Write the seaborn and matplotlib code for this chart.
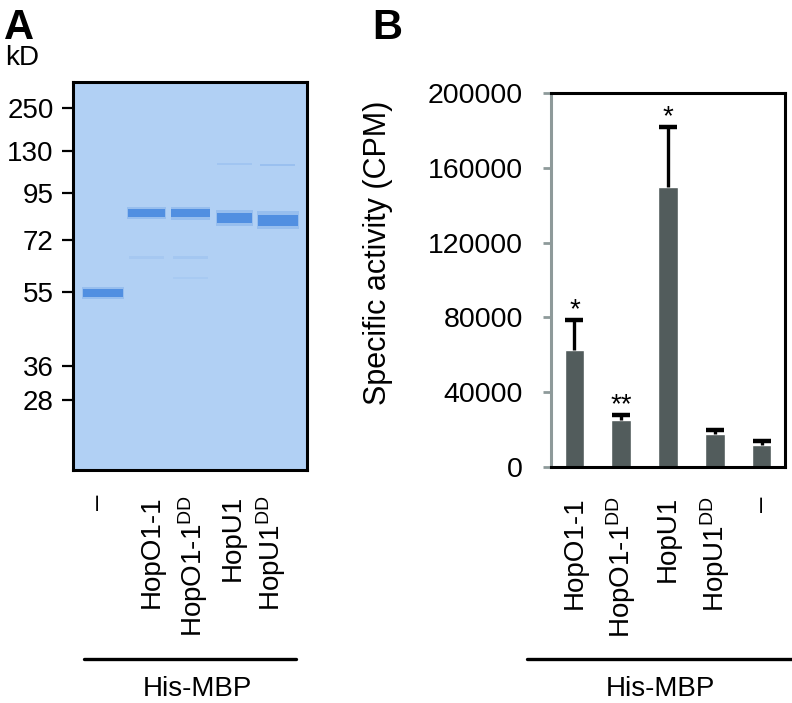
import matplotlib
matplotlib.use("Agg")
import matplotlib.pyplot as plt
from matplotlib.lines import Line2D
import seaborn as sns

# ---- panel A: gel (marker ladder + lane bands) ----
marker_kd = [250, 130, 95, 72, 55, 36, 28]
marker_mig = [0.067, 0.178, 0.286, 0.407, 0.541, 0.732, 0.820]   # relative migration from gel top
gel_lanes = ["\u2013", "HopO1-1", "HopO1-1$^{\\mathrm{DD}}$", "HopU1", "HopU1$^{\\mathrm{DD}}$"]

band_lane = [0, 1, 2, 3, 4]
band_mig = [0.544, 0.338, 0.338, 0.351, 0.356]
band_thick = [0.020, 0.020, 0.021, 0.025, 0.029]
band_width = [0.91, 0.85, 0.87, 0.80, 0.91]

faint_lane = [3, 4, 1, 2, 2]
faint_mig = [0.212, 0.214, 0.452, 0.452, 0.505]
faint_alpha = [0.15, 0.22, 0.10, 0.12, 0.08]

# ---- panel B: kinase activity ----
act_labels = ["HopO1-1", "HopO1-1$^{\\mathrm{DD}}$", "HopU1", "HopU1$^{\\mathrm{DD}}$", "\u2013"]
act_values = [62800, 25400, 149500, 17900, 12000]
act_err = [15800, 2300, 32300, 2100, 1800]
act_stars = ["*", "**", "*", "", ""]

sns.set_style("white")
plt.rcParams["font.family"] = ["Liberation Sans", "DejaVu Sans"]
plt.rcParams["text.color"] = "black"
plt.rcParams["axes.labelcolor"] = "black"
plt.rcParams["xtick.color"] = "black"
plt.rcParams["ytick.color"] = "black"
plt.rcParams["mathtext.fontset"] = "custom"
plt.rcParams["mathtext.rm"] = "Liberation Sans"
plt.rcParams["mathtext.it"] = "Liberation Sans:italic"
plt.rcParams["mathtext.bf"] = "Liberation Sans:bold"

W, H = 792, 703
fig = plt.figure(figsize=(W / 100, H / 100), dpi=100)


def fx(px):
    return px / W


def fy(py):
    return 1 - py / H


gel_col = "#b1d0f4"
band_col = "#4a8ae0"

# Gel panel
ax_gel = fig.add_axes([fx(73), fy(470), 234 / W, 388 / H])
ax_gel.set_facecolor(gel_col)
ax_gel.set_xlim(-0.686, 4.663)
ax_gel.set_ylim(1, 0)

for lane, mig, th, w in zip(band_lane, band_mig, band_thick, band_width):
    ax_gel.bar(lane, th * 1.6, bottom=mig - th * 0.8, width=w + 0.04,
               color=band_col, alpha=0.25, linewidth=0)
    ax_gel.bar(lane, th, bottom=mig - th / 2, width=w,
               color=band_col, alpha=0.9, linewidth=0)

for lane, mig, a in zip(faint_lane, faint_mig, faint_alpha):
    ax_gel.bar(lane, 0.006, bottom=mig - 0.003, width=0.8,
               color=band_col, alpha=a, linewidth=0)

ax_gel.set_yticks(marker_mig)
ax_gel.set_yticklabels([str(k) for k in marker_kd], fontsize=20)
ax_gel.tick_params(axis="y", direction="out", length=8, width=1.6, pad=6,
                   left=True, colors="black")
# lane labels sit slightly off the band centres, as in the figure
ax_gel.set_xticks([-0.11, 1.12, 2.06, 2.97, 3.84])
ax_gel.set_xticklabels(gel_lanes, rotation=90, fontsize=20, va="top")
ax_gel.tick_params(axis="x", length=0, pad=18)
for sp in ax_gel.spines.values():
    sp.set_color("black")
    sp.set_linewidth(2.2)

# Bar panel
ax_b = fig.add_axes([fx(551), fy(467), 234 / W, 374 / H])
pos = list(range(len(act_labels)))
sns.barplot(x=pos, y=act_values, color="#525c5c", saturation=1, width=0.42,
            ax=ax_b, native_scale=True)
eb = ax_b.errorbar(pos, act_values, yerr=[[0] * len(pos), act_err], fmt="none",
                   ecolor="black", elinewidth=2.4, capsize=6.5, capthick=3.2)
# keep only the upper caps
for cap in eb[1]:
    if list(cap.get_ydata()) == act_values:
        cap.set_visible(False)

for i, (v, e, s) in enumerate(zip(act_values, act_err, act_stars)):
    if s:
        ax_b.annotate(s, (i, v + e), xytext=(0, -2), textcoords="offset points",
                      ha="center", va="bottom", fontsize=20)

ax_b.set_xlim(-0.5, 4.5)
ax_b.set_ylim(0, 200000)
ax_b.set_yticks(range(0, 200001, 40000))
ax_b.set_yticklabels([str(t) for t in range(0, 200001, 40000)], fontsize=20.5)
ax_b.tick_params(axis="y", direction="out", length=6, width=2, pad=14,
                 left=True, color="#8e9a9a", labelcolor="black")
ax_b.set_xticks(pos)
ax_b.set_xticklabels(act_labels, rotation=90, fontsize=20, va="top")
ax_b.tick_params(axis="x", length=0, pad=21)
ax_b.set_ylabel("Specific activity (CPM)", fontsize=22)
ax_b.yaxis.set_label_coords(-0.675, 0.572)
for name, sp in ax_b.spines.items():
    sp.set_visible(True)
    sp.set_linewidth(2.2)
    sp.set_color("#8e9a9a" if name == "left" else "black")

# Panel letters and annotations
fig.text(fx(4), fy(39), "A", fontsize=30, fontweight="bold", va="baseline")
fig.text(fx(5), fy(65), "kD", fontsize=20, va="baseline")
fig.text(fx(372), fy(39), "B", fontsize=30, fontweight="bold", va="baseline")

fig.add_artist(Line2D([fx(84), fx(296)], [fy(659), fy(659)], color="black", lw=2.4))
fig.add_artist(Line2D([fx(527), fx(792)], [fy(659), fy(659)], color="black", lw=2.4))
fig.text(fx(197), fy(696), "His-MBP", fontsize=20, ha="center", va="baseline")
fig.text(fx(660), fy(696), "His-MBP", fontsize=20, ha="center", va="baseline")

fig.savefig("out.png", dpi=100)
